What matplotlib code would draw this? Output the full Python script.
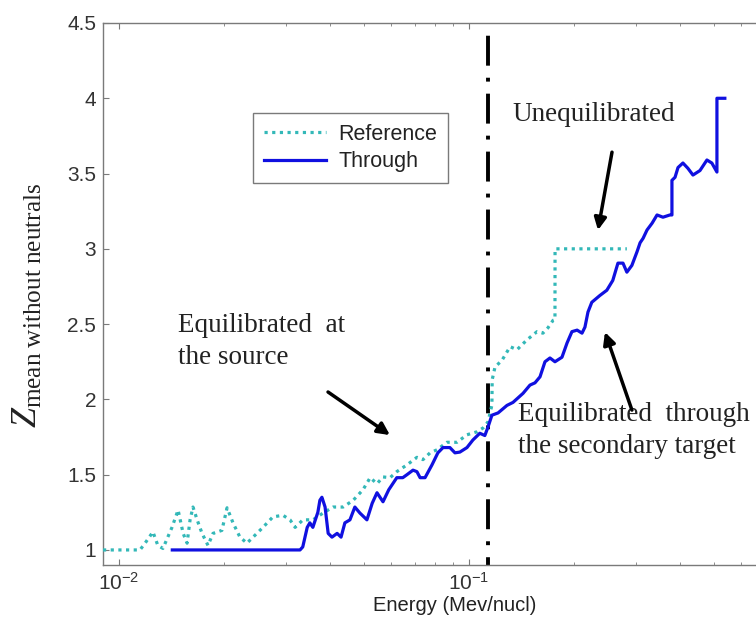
import matplotlib
matplotlib.use("Agg")
import matplotlib.pyplot as plt
from matplotlib.ticker import FuncFormatter, LogLocator, NullFormatter

plt.rcParams['font.family'] = ['Liberation Sans', 'DejaVu Sans']
plt.rcParams['mathtext.fontset'] = 'custom'
plt.rcParams['mathtext.rm'] = 'Liberation Serif'
plt.rcParams['mathtext.it'] = 'Liberation Serif:italic'
plt.rcParams['axes.unicode_minus'] = False

# ---------------- data ----------------
energy_through = [0.0142, 0.0329, 0.0335, 0.0345, 0.0351, 0.0358, 0.0370, 0.0375, 0.0380, 0.0388,
                  0.0396, 0.0406, 0.0420, 0.0431, 0.0442, 0.0457, 0.0472, 0.0488, 0.0511, 0.0529,
                  0.0546, 0.0568, 0.0590, 0.0622, 0.0647, 0.0665, 0.0692, 0.0710, 0.0725, 0.0749,
                  0.0784, 0.0815, 0.0843, 0.0882, 0.0912, 0.0942, 0.0987, 0.1026, 0.1074, 0.1110,
                  0.1133, 0.1163, 0.1211, 0.1284, 0.1336, 0.1427, 0.1494, 0.1544, 0.1596, 0.1649,
                  0.1704, 0.1761, 0.1844, 0.1907, 0.1969, 0.2037, 0.2104, 0.2145, 0.2188, 0.2244,
                  0.2366, 0.2477, 0.2576, 0.2665, 0.2755, 0.2826, 0.2921, 0.3021, 0.3083, 0.3145,
                  0.3227, 0.3336, 0.3447, 0.3584, 0.3752, 0.3802, 0.3802, 0.3880, 0.3957, 0.4087,
                  0.4223, 0.4366, 0.4572, 0.4786, 0.4943, 0.5112, 0.5112, 0.5385]
z_through = [1.0, 1.0, 1.02, 1.15, 1.18, 1.15, 1.25, 1.33, 1.35, 1.285,
             1.11, 1.085, 1.11, 1.085, 1.18, 1.20, 1.285, 1.245, 1.20, 1.31,
             1.38, 1.32, 1.40, 1.48, 1.48, 1.50, 1.53, 1.52, 1.48, 1.48,
             1.565, 1.645, 1.68, 1.68, 1.645, 1.65, 1.68, 1.73, 1.775, 1.76,
             1.815, 1.895, 1.91, 1.96, 1.98, 2.04, 2.095, 2.11, 2.15, 2.25,
             2.275, 2.25, 2.28, 2.375, 2.45, 2.46, 2.44, 2.48, 2.58, 2.645,
             2.69, 2.725, 2.79, 2.905, 2.905, 2.845, 2.89, 2.98, 3.04, 3.07,
             3.125, 3.17, 3.225, 3.21, 3.225, 3.225, 3.455, 3.475, 3.54, 3.57,
             3.535, 3.49, 3.52, 3.59, 3.57, 3.51, 4.0, 4.0]

energy_ref = [0.0090, 0.01148, 0.01187, 0.0125, 0.01291, 0.01335, 0.01417, 0.01475, 0.01525, 0.01565,
              0.01596, 0.01627, 0.01672, 0.01727, 0.01796, 0.01856, 0.01968, 0.02036, 0.02117, 0.02216,
              0.0232, 0.02416, 0.02578, 0.02754, 0.02942, 0.03081, 0.03186, 0.03354, 0.03583, 0.03828,
              0.0409, 0.0437, 0.0467, 0.0498, 0.0522, 0.0546, 0.0568, 0.0595, 0.0622, 0.0665,
              0.0710, 0.0739, 0.0774, 0.0810, 0.0865, 0.0924, 0.0987, 0.1055, 0.1097, 0.1133,
              0.1163, 0.1165, 0.1187, 0.1243, 0.1311, 0.1372, 0.1464, 0.1565, 0.1627, 0.1681,
              0.1739, 0.1761, 0.1762, 0.2826]
z_ref = [1.0, 1.0, 1.045, 1.12, 1.03, 1.01, 1.15, 1.265, 1.11, 1.045,
         1.20, 1.285, 1.20, 1.11, 1.03, 1.11, 1.13, 1.28, 1.18, 1.085,
         1.045, 1.085, 1.15, 1.22, 1.23, 1.20, 1.15, 1.20, 1.20, 1.245,
         1.285, 1.285, 1.33, 1.40, 1.48, 1.44, 1.485, 1.48, 1.52, 1.565,
         1.615, 1.60, 1.645, 1.665, 1.715, 1.715, 1.765, 1.785, 1.81, 1.85,
         1.962, 2.13, 2.215, 2.26, 2.35, 2.33, 2.395, 2.45, 2.44, 2.475,
         2.525, 2.53, 3.0, 3.0]

boundary_energy = 0.113
y_ticks = [1, 1.5, 2, 2.5, 3, 3.5, 4, 4.5]

# ---------------- figure ----------------
W, H = 756, 626
fig = plt.figure(figsize=(W / 100, H / 100), dpi=100)
ax_left, ax_right, ax_top, ax_bottom = 103, 785, 23, 565
ax = fig.add_axes([ax_left / W, (H - ax_bottom) / H,
                   (ax_right - ax_left) / W, (ax_bottom - ax_top) / H])

c_ref = '#33b8b8'
c_thr = '#1010e0'

ax.plot(energy_ref, z_ref, color=c_ref, lw=2.3, linestyle=(0, (1.0, 1.4)),
        dash_capstyle='butt', label='Reference', zorder=3)
ax.plot(energy_through, z_through, color=c_thr, lw=2.3, label='Through', zorder=4)

ax.axvline(boundary_energy, color='black', lw=2.8,
           linestyle=(5.7, (7.7, 3.1, 1.0, 3.1)), dash_capstyle='butt', zorder=2)

ax.set_xscale('log')
ax.set_xlim(0.009, 0.8)
ax.set_ylim(0.9, 4.5)
ax.set_yticks(y_ticks)
ax.yaxis.set_major_formatter(FuncFormatter(lambda v, _: f'{v:g}'))
ax.xaxis.set_minor_locator(LogLocator(base=10, subs=range(2, 10)))
ax.xaxis.set_minor_formatter(NullFormatter())

for s in ax.spines.values():
    s.set_color('#7a7a7a')
    s.set_linewidth(1.0)
ax.tick_params(which='both', direction='in', top=True, right=True, colors='#7a7a7a',
               labelcolor='#333333', labelsize=15)
ax.tick_params(which='major', length=4, pad=5)
ax.tick_params(which='minor', length=2.5)

ax.set_xlabel('Energy (Mev/nucl)', fontsize=14.5, color='#222222')
ax.xaxis.set_label_coords(0.515, -0.058)
ax.set_ylabel(r'$Z_{\mathrm{mean\ without\ neutrals}}$', fontsize=26, color='#222222')
ax.yaxis.set_label_coords(-0.085, 0.48)

leg = ax.legend(loc='upper left', bbox_to_anchor=(0.22, 0.834), borderaxespad=0,
                fontsize=15.5, handlelength=2.9, handletextpad=0.55, labelspacing=0.3,
                borderpad=0.5, fancybox=False, framealpha=1, edgecolor='#7a7a7a')
leg.get_frame().set_linewidth(1.0)
for t in leg.get_texts():
    t.set_color('#222222')

serif = {'family': 'Liberation Serif', 'size': 19.5, 'color': '#222222'}
ax.text(0.601, 0.819, 'Unequilibrated', transform=ax.transAxes, ha='left',
        va='baseline', fontdict=serif)
ax.text(0.110, 0.371, 'Equilibrated  at\nthe source', transform=ax.transAxes, ha='left',
        va='baseline', fontdict=serif, linespacing=1.37)
ax.text(0.6085, 0.2066, 'Equilibrated  through\nthe secondary target', transform=ax.transAxes,
        ha='left', va='baseline', fontdict=serif, linespacing=1.37)

arrow = dict(arrowstyle='-|>', color='black', lw=2.5, mutation_scale=18, shrinkA=0, shrinkB=0)
ax.annotate('', xy=(0.2337, 3.124), xytext=(0.2563, 3.642), arrowprops=arrow)
ax.annotate('', xy=(0.05946, 1.763), xytext=(0.03956, 2.049), arrowprops=arrow)
ax.annotate('', xy=(0.2447, 2.447), xytext=(0.2922, 1.929), arrowprops=arrow)

fig.savefig('out.png', dpi=100, facecolor='white')
